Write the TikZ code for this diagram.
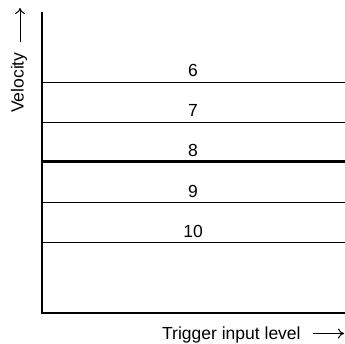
\documentclass[tikz,border=0pt]{standalone}
\usepackage{fontspec}
\setmainfont{Liberation Sans}
\usetikzlibrary{arrows.meta}
\begin{document}
\begin{tikzpicture}[x=1pt,y=1pt,
  lbl/.style={font=\fontsize{17.5}{20}\selectfont, inner sep=0pt, anchor=base},
  axis/.style={line width=2pt},
  tarrow/.style={-{To[length=6pt,width=10pt]}, line width=1pt}]
\useasboundingbox (0,0) rectangle (345,343);
\coordinate (o) at (42,30);
\coordinate (top) at (42,331);
\coordinate (right) at (345,30);
\draw[axis] (top) -- (o.center) -- (right);
\foreach \y/\t/\w in {261/6/0.8pt,221/7/0.8pt,181.5/8/2.4pt,141/9/0.8pt,101/10/0.8pt}{
  \coordinate (l\t a) at (42,\y);
  \coordinate (l\t b) at (345,\y);
  \draw[line width=\w] (l\t a) -- (l\t b);
  \node[lbl] (n\t) at (193,\y+5) {\t};
}
\node[lbl, rotate=90, anchor=base west] (vel) at (23.5,230) {Velocity};
\coordinate (va) at (20,301);
\coordinate (vb) at (20,335);
\draw[tarrow] (va) -- (vb);
\node[lbl, anchor=base west] (trig) at (162,4) {Trigger input level};
\coordinate (ha) at (313,9.5);
\coordinate (hb) at (344,9.5);
\draw[tarrow] (ha) -- (hb);
\end{tikzpicture}
\end{document}
